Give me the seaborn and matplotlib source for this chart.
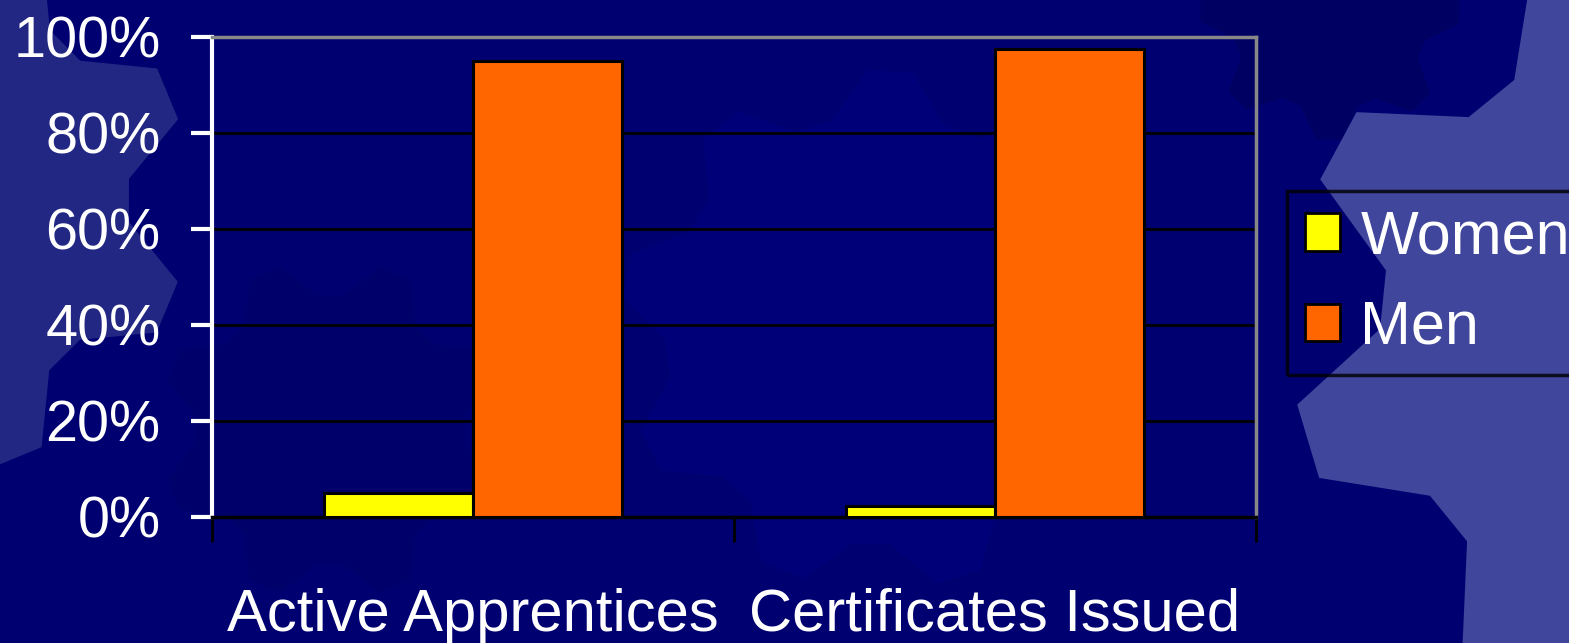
import numpy as np
import pandas as pd
import matplotlib.pyplot as plt
import matplotlib.patches as mpatches
import seaborn as sns

# Data
categories = ["Active Apprentices", "Certificates Issued"]
women = [5.0, 2.3]
men = [95.0, 97.6]
groups = ["Women", "Men"]
colors = ["#FFFF00", "#FF6600"]
yticks = [0, 20, 40, 60, 80, 100]

df = pd.DataFrame({
    "category": categories * 2,
    "group": ["Women"] * len(women) + ["Men"] * len(men),
    "share": women + men,
})

sns.set_theme(style="white")
plt.rcParams["font.family"] = ["Liberation Sans", "DejaVu Sans"]

fig = plt.figure(figsize=(15.69, 6.43), dpi=100)
fig.patch.set_facecolor("#000070")

# background layer with decorative gears (pixel coordinates, y down)
bg = fig.add_axes([0, 0, 1, 1], zorder=-5)
bg.set_xlim(0, 1569)
bg.set_ylim(643, 0)
bg.axis("off")


def add_gear(cx, cy, r_out, r_in, teeth, color, rot=0.0, alpha=1.0):
    n = teeth * 4
    a = rot + 2 * np.pi * np.arange(n) / n
    r = np.where(np.isin(np.arange(n) % 4, [1, 2]), r_out, r_in)
    pts = np.column_stack([cx + r * np.cos(a), cy + r * np.sin(a)])
    bg.add_patch(mpatches.Polygon(pts, closed=True, facecolor=color,
                                  edgecolor="none", alpha=alpha))


add_gear(1680, 330, 390, 300, 8, "#3f469b", rot=0.2)
add_gear(-90, 200, 280, 220, 8, "#262c86", rot=0.1, alpha=0.9)
add_gear(880, 330, 260, 215, 9, "#000078", rot=0.3)
add_gear(1330, 10, 130, 100, 8, "#000062", rot=0.5)
add_gear(330, 430, 170, 135, 8, "#00006a", rot=0.1)

ax = fig.add_axes([212 / 1569, 1 - 517 / 643, (1256 - 212) / 1569, (517 - 37) / 643])
ax.set_facecolor("none")

sns.barplot(data=df, x="category", y="share", hue="group", hue_order=groups,
            palette=colors, width=0.571, edgecolor="black", linewidth=2.2,
            saturation=1, ax=ax, legend=False, zorder=3)

ax.set_xlim(-0.5, 1.5)
ax.set_ylim(0, 100)
ax.set_yticks(yticks)
ax.set_yticklabels([f"{t}%" for t in yticks], color="white", fontsize=41.5)
ax.set_xticks([-0.5, 0.5, 1.5])
ax.set_xticklabels([])
ax.set_xticks([0, 1], minor=True)
ax.set_xticklabels(categories, minor=True, color="white", fontsize=43)
ax.tick_params(axis="x", which="minor", bottom=False, length=0, pad=51)
ax.tick_params(axis="x", which="major", bottom=True, length=18, width=2,
               color="black", direction="out")
ax.tick_params(axis="y", left=True, length=15, width=3, color="white",
               direction="out", pad=22)
ax.set_xlabel("")
ax.set_ylabel("")

for t in yticks[1:-1]:
    ax.axhline(t, color="black", linewidth=2, zorder=1)

ax.spines["left"].set_color("white")
ax.spines["left"].set_linewidth(3)
ax.spines["bottom"].set_color("black")
ax.spines["bottom"].set_linewidth(2.5)
ax.spines["top"].set_color("#888888")
ax.spines["top"].set_linewidth(2.5)
ax.spines["right"].set_color("#888888")
ax.spines["right"].set_linewidth(2.5)
for s in ax.spines.values():
    s.set_visible(True)

handles = [mpatches.Patch(facecolor=c, edgecolor="black", linewidth=2, label=g)
           for c, g in zip(colors, groups)]
leg = fig.legend(handles=handles, loc="upper left", bbox_to_anchor=(1287 / 1569, 1 - 191 / 643),
                 fontsize=44, frameon=True, fancybox=False, handlelength=0.57,
                 handleheight=0.57, handletextpad=0.33, borderpad=0.3, labelspacing=0.55,
                 borderaxespad=0)
leg.get_frame().set_facecolor("none")
leg.get_frame().set_edgecolor("black")
leg.get_frame().set_linewidth(2.5)
for txt in leg.get_texts():
    txt.set_color("white")

fig.savefig("out.png", dpi=100, facecolor=fig.get_facecolor())
